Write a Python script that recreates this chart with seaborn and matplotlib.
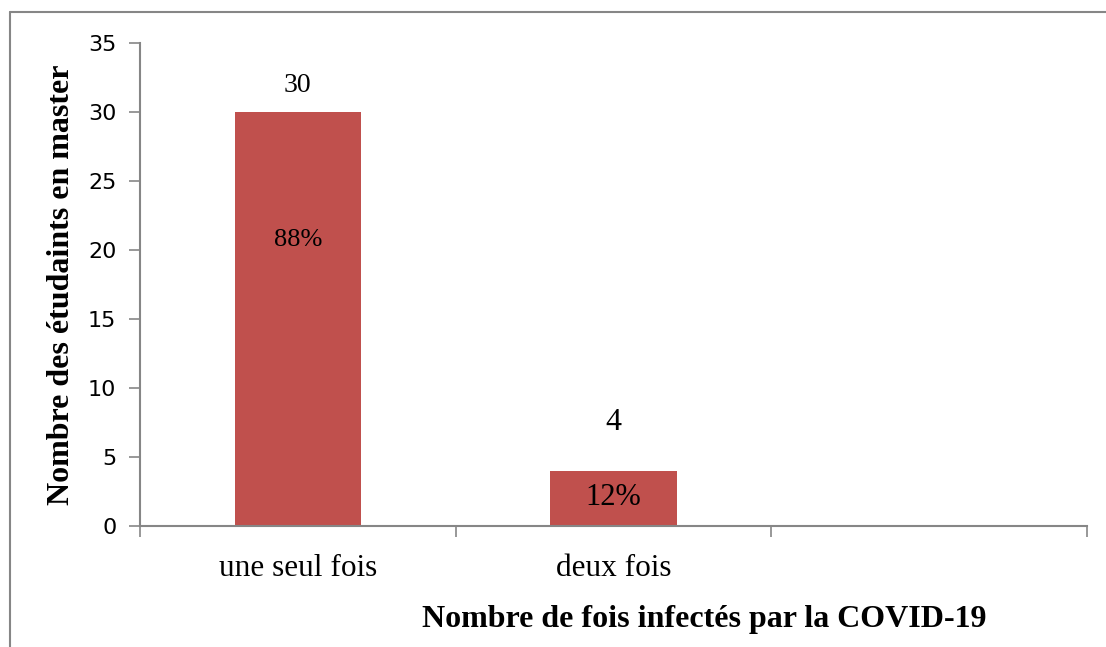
import seaborn as sns
import matplotlib.pyplot as plt
from matplotlib.lines import Line2D

# data
categories = ["une seul fois", "deux fois"]
counts = [30, 4]
percents = ["88%", "12%"]
y_ticks = [0, 5, 10, 15, 20, 25, 30, 35]

sns.set_style("white")
plt.rcParams['font.family'] = ['Liberation Serif', 'DejaVu Serif']
plt.rcParams.update({'text.color': 'black', 'axes.labelcolor': 'black',
                     'xtick.color': 'black', 'ytick.color': 'black'})

fig = plt.figure(figsize=(11.06, 6.47), dpi=100)
ax = fig.add_axes([140/1106, 1-526/647, (1087-140)/1106, (526-43)/647])

sns.barplot(x=categories, y=counts, color="#C0504D", width=0.4,
            saturation=1, ax=ax, linewidth=0)

ax.set_xlim(-0.5, 2.5)
ax.set_ylim(0, 35)
ax.set_yticks(y_ticks)
ax.set_yticklabels([str(t) for t in y_ticks], fontfamily='DejaVu Sans', fontsize=16)

# category boundaries as tick marks, labels centred under bars
ax.set_xticks([0, 1])
ax.set_xticklabels(categories, fontsize=22.5)
ax.set_xticks([-0.5, 0.5, 1.5, 2.5], minor=True)
ax.tick_params(axis='x', which='major', length=0, pad=20, bottom=True)
ax.tick_params(axis='x', which='minor', length=8, width=1.2, color='#868686',
               direction='out', bottom=True)
ax.tick_params(axis='y', length=8, width=1.2, color='#868686', direction='out',
               pad=9, left=True)

for s in ['top', 'right']:
    ax.spines[s].set_visible(False)
for s in ['left', 'bottom']:
    ax.spines[s].set_color('#868686')
    ax.spines[s].set_linewidth(1.5)

# value labels above bars and percentages inside
val_offset = [1.95, 3.5]
val_sizes = [20, 23]
pct_pos = [20.7, 2.1]
pct_sizes = [19, 22]
for i, (c, p) in enumerate(zip(counts, percents)):
    ax.text(i, c + val_offset[i], str(c), ha='center', va='center', fontsize=val_sizes[i])
    ax.text(i, pct_pos[i], p, ha='center', va='center', fontsize=pct_sizes[i])

ax.set_xlabel("")
ax.set_ylabel("")
fig.text(62/1106, 1-285/647, "Nombre des étudaints en master", rotation=90,
         ha='center', va='center', fontsize=23, fontweight='bold')
fig.text(704/1106, 1-619/647, "Nombre de fois infectés par la COVID-19",
         ha='center', va='center', fontsize=23, fontweight='bold')

# outer chart-area border (top and left visible)
fig.add_artist(Line2D([10/1106, 1], [1-12/647, 1-12/647], color='#868686', lw=1.5))
fig.add_artist(Line2D([10/1106, 10/1106], [1-12/647, 0], color='#868686', lw=1.5))

fig.savefig("out.png", dpi=100)
